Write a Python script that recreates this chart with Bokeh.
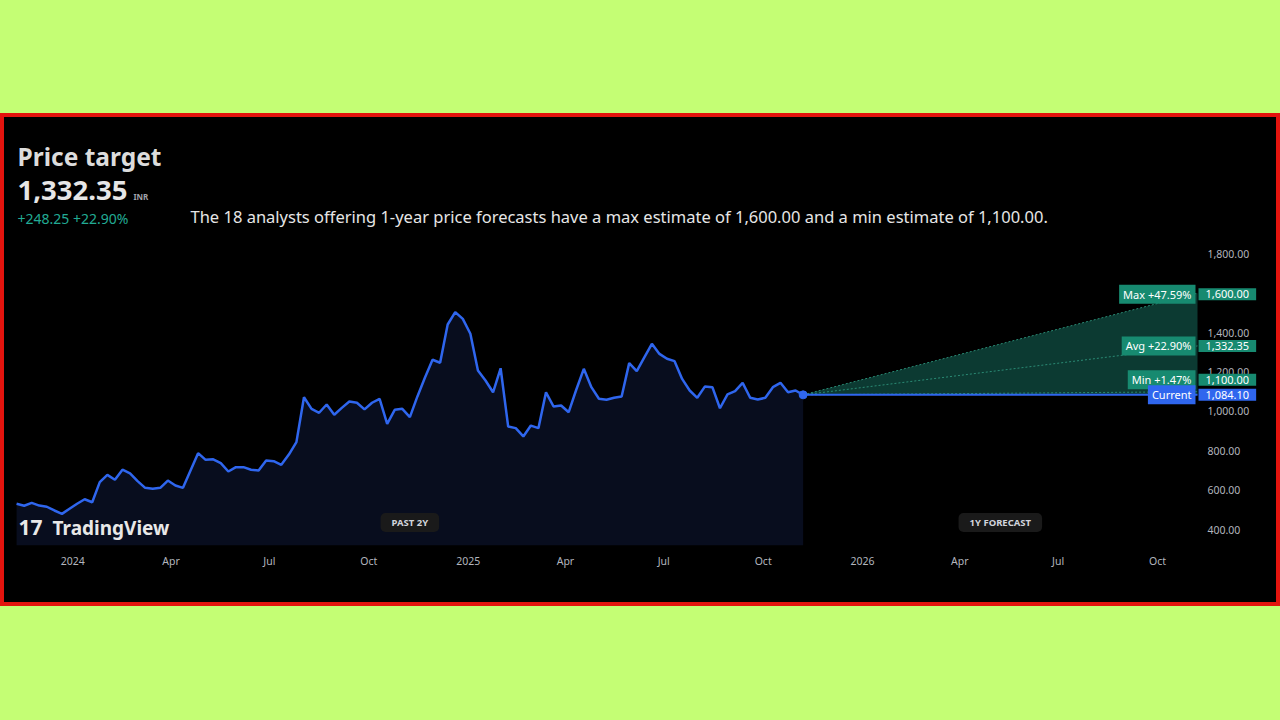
import pandas as pd
from bokeh.plotting import figure
from bokeh.models import Range1d, FixedTicker, Label, Spacer
from bokeh.layouts import column, row
from bokeh.core.properties import value
from bokeh.embed import file_html
from bokeh.resources import INLINE

# ---------------- data ----------------
prices = [531, 521, 536, 522, 516, 497, 480, 506, 531, 554, 539, 641, 678, 653, 704, 686, 646, 612, 607, 612, 649, 624, 612, 700, 788,
          754, 757, 737, 695, 717, 717, 704, 700, 751, 747, 729, 781, 844, 1072, 1013, 993, 1035, 983, 1018, 1050, 1044, 1010, 1044, 1064, 937, 1008, 1013,
          971, 1076, 1172, 1262, 1247, 1441, 1504, 1470, 1394, 1208, 1157, 1097, 1219, 923, 915, 873, 928, 915, 1097, 1025, 1030, 996, 1110, 1216, 1123,
          1064, 1059, 1069, 1076, 1245, 1204, 1274, 1343, 1292, 1267, 1255, 1165, 1106, 1069, 1126, 1123, 1016, 1086, 1103, 1145, 1069, 1060, 1069, 1123, 1145, 1097, 1106, 1084.10]
last_date = "2025-11-07"
dates = pd.date_range(end=last_date, periods=len(prices), freq="7D")

current_price = 1084.10
target_max = 1600.00
target_avg = 1332.35
target_min = 1100.00
n_analysts = 18
currency = "INR"
view_start = "2023-11-09"
forecast_end = "2026-11-07"

x_tick_dates = ["2024-01-01", "2024-04-01", "2024-07-01", "2024-10-01",
                "2025-01-01", "2025-04-01", "2025-07-01", "2025-10-01",
                "2026-01-01", "2026-04-01", "2026-07-01", "2026-10-01"]
x_tick_labels = ["2024", "Apr", "Jul", "Oct", "2025", "Apr", "Jul", "Oct", "2026", "Apr", "Jul", "Oct"]
y_ticks = [400, 600, 800, 1000, 1200, 1400, 1600, 1800]

# ---------------- layout constants ----------------
FONT = "Noto Sans"
BLUE = "#2f66ee"
TEAL = "#178a70"
W, H = 1272, 485          # figure size (inside the red border)
PAD_L, PAD_R = 11, 79     # price area inset inside the frame (px)
BOTTOM = 57               # x-axis band
Y_LO, PX_PER_UNIT = 319.3, 0.197


def ms(d):
    return float(pd.Timestamp(d).value // 10**6)


x_cur = ms(last_date)
x_end = ms(forecast_end)
ms_per_px = (x_end - ms(view_start)) / (W - PAD_L - PAD_R)
x_lo = ms(view_start) - PAD_L * ms_per_px
x_hi = x_end + PAD_R * ms_per_px
y_hi = Y_LO + (H - BOTTOM) / PX_PER_UNIT

p = figure(width=W, height=H, x_axis_type="datetime",
           x_range=Range1d(x_lo, x_hi), y_range=Range1d(Y_LO, y_hi),
           output_backend="svg", toolbar_location=None,
           background_fill_color="#000000", border_fill_color="#000000",
           min_border_left=0, min_border_right=0, min_border_top=0, min_border_bottom=BOTTOM)
p.outline_line_color = None
p.grid.visible = False
p.yaxis.visible = False

# price history fill + line
p.varea(x=list(dates), y1=[Y_LO] * len(prices), y2=prices, fill_color="#080d1e", fill_alpha=1.0)
p.line(x=list(dates), y=prices, line_color=BLUE, line_width=2.5)

# forecast fan
p.patch(x=[x_cur, x_end, x_end], y=[current_price, target_max, current_price],
        fill_color="#0c3a32", fill_alpha=1.0, line_color=None)
p.segment(x0=[x_cur] * 3, y0=[current_price] * 3, x1=[x_end] * 3,
          y1=[target_max, target_avg, target_min],
          line_color="#2a8a74", line_width=1, line_dash="2 2")
p.line(x=[x_cur, x_end], y=[current_price, current_price], line_color=BLUE, line_width=2)
p.scatter(x=[x_cur], y=[current_price], size=8, fill_color=BLUE, line_color=BLUE)

# x axis
xa = p.xaxis[0]
xa.ticker = FixedTicker(ticks=[ms(d) for d in x_tick_dates])
xa.major_label_overrides = {ms(d): lab for d, lab in zip(x_tick_dates, x_tick_labels)}
xa.axis_line_color = None
xa.major_tick_line_color = None
xa.minor_tick_line_color = None
xa.major_tick_out = 0
xa.major_tick_in = 0
xa.minor_tick_out = 0
xa.major_label_text_color = "#b2b5be"
xa.major_label_text_font = FONT
xa.major_label_text_font_size = "10.5px"
xa.major_label_standoff = 8

# price scale labels
p.text(x=[x_end] * len(y_ticks), y=y_ticks, text=[f"{v:,.2f}" for v in y_ticks],
       x_offset=10, text_align="left", text_baseline="middle",
       text_color="#b2b5be", text_font=value(FONT), text_font_size="10.5px")


# badges  (padding order: left, right, top, bottom)
def badge(y, text, color, align, xoff, yoff, hpad):
    p.add_layout(Label(x=x_end, y=y, text=text, text_align=align, text_baseline="middle",
                       x_offset=xoff, y_offset=yoff, text_color="#ffffff", text_font=FONT,
                       text_font_size="11px", background_fill_color=color,
                       padding=(hpad, hpad, 2, 2)))


def pct(v):
    return (v / current_price - 1) * 100


badge(target_max, f"Max +{pct(target_max):.2f}%", TEAL, "right", -2, -1, 4)
badge(target_max, f"{target_max:,.2f}", TEAL, "left", 1, -1, 7)
badge(target_avg, f"Avg +{pct(target_avg):.2f}%", TEAL, "right", -2, 0, 4)
badge(target_avg, f"{target_avg:,.2f}", TEAL, "left", 1, 0, 7)
badge(target_min, f"Min +{pct(target_min):.2f}%", TEAL, "right", -2, 12, 4)
badge(target_min, f"{target_min:,.2f}", TEAL, "left", 1, 12, 7)
badge(current_price, "Current", BLUE, "right", -2, 0, 4)
badge(current_price, f"{current_price:,.2f}", BLUE, "left", 1, 0, 7)

# period pills with a soft glow
mid_past = (ms(dates[0]) + x_cur) / 2
mid_fc = (x_cur + x_end) / 2
for xm, txt in ((mid_past, "PAST 2Y"), (mid_fc, "1Y FORECAST")):
    for pad, alpha in ((22, 0.05), (12, 0.07)):
        p.add_layout(Label(x=xm, y=23, y_units="screen", text=txt, text_align="center",
                           text_baseline="middle", text_alpha=0.0, text_font=FONT,
                           text_font_size="9.5px", text_font_style="bold",
                           background_fill_color="#ffffff", background_fill_alpha=alpha,
                           border_radius=16, padding=(11 + pad, 11 + pad, 3 + pad // 2, 3 + pad // 2)))
    p.add_layout(Label(x=xm, y=23, y_units="screen", text=txt, text_align="center",
                       text_baseline="middle", text_color="#d1d4dc", text_font=FONT,
                       text_font_size="9.5px", text_font_style="bold",
                       background_fill_color="#1a1a1a", border_radius=5,
                       padding=(11, 11, 3, 3)))


# header texts (screen units relative to frame bottom-left)
def hlabel(x, y, text, size, color, style="normal"):
    p.add_layout(Label(x=x, y=y, x_units="screen", y_units="screen", text=text,
                       text_font=FONT, text_font_size=size, text_color=color,
                       text_font_style=style, text_baseline="middle"))


hlabel(13, 389, "Price target", "24.5px", "#dcdcdc", "bold")
hlabel(13, 355, f"{target_avg:,.2f}", "27.5px", "#e6e6e6", "bold")
hlabel(129, 349, currency, "8px", "#a0a3ab", "bold")
hlabel(13, 327, f"+{target_avg - current_price:,.2f}  +{pct(target_avg):.2f}%", "14px", "#22ab94")
hlabel(186, 329, f"The {n_analysts} analysts offering 1-year price forecasts have a max estimate of "
                 f"{target_max:,.2f} and a min estimate of {target_min:,.2f}.", "16.5px", "#e6e6e6")
hlabel(14, 18, "17", "21px", "#e8e8e8", "bold")
hlabel(48, 18, "TradingView", "19px", "#e8e8e8", "bold")

layout = column(Spacer(width=1280, height=117),
                row(Spacer(width=4, height=H), p))

css = ("<style>html,body{margin:0 !important;padding:0 !important;}"
       "body{background:"
       "linear-gradient(#000,#000) 4px 117px/1272px 485px no-repeat,"
       "linear-gradient(#e3140e,#e3140e) 0px 113px/1280px 493px no-repeat,"
       "#c4fe74 !important;}</style></head>")
html = file_html(layout, INLINE).replace("</head>", css, 1)
open("out.html", "w").write(html)
